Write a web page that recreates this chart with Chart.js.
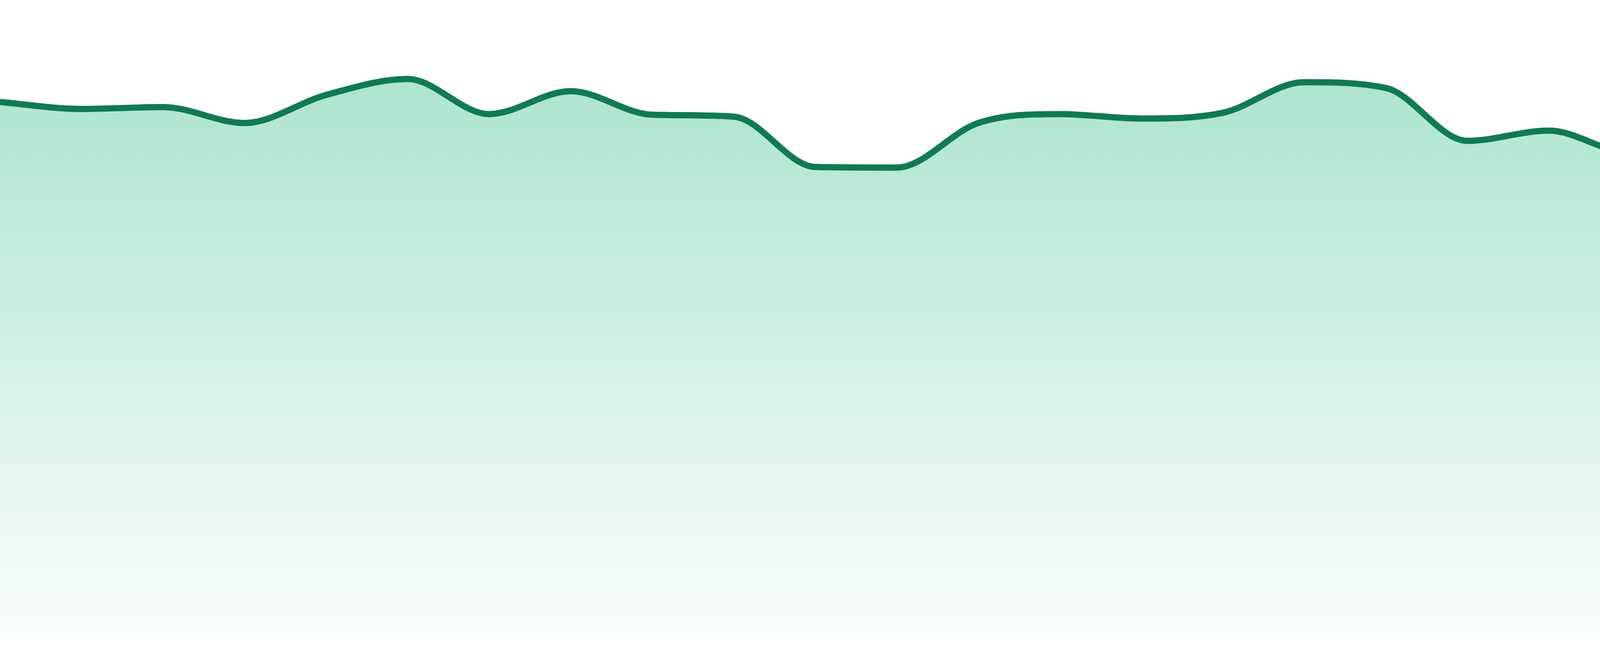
<!DOCTYPE html>
<html>
<head>
<meta charset="utf-8">
<script src="https://cdn.jsdelivr.net/npm/chart.js@4/dist/chart.umd.min.js"></script>
<style>
    html, body { margin: 0; padding: 0; background: #fff; }
    #wrap { width: 4800px; height: 1680px; position: relative; }
</style>
</head>
<body>
<div id="wrap"><canvas id="areaChart"></canvas></div>
<script>
const labels = ["1", "2", "3", "4", "5", "6", "7", "8", "9", "10", "11", "12",
    "13", "14", "15", "16", "17", "18", "19", "20", "21", "22", "23", "24"];
const values = [84.0, 82.9, 83.2, 80.7, 85.1, 87.6, 82.1, 85.7, 82.0, 81.7, 73.8, 73.7,
    80.7, 82.1, 81.4, 82.3, 87.1, 86.2, 77.9, 79.5, 76.0, 80.6, 74.6, 66.0];
const yMin = 0;
const yMax = 100;

const ctx = document.getElementById("areaChart").getContext("2d");

function fillGradient(context) {
    const area = context.chart.chartArea;
    if (!area) {
        return "rgba(20,180,120,0.3)";
    }
    const g = context.chart.ctx.createLinearGradient(0, area.top, 0, area.bottom);
    g.addColorStop(0, "rgba(20,180,120,0.40)");
    g.addColorStop(1, "rgba(20,180,120,0.02)");
    return g;
}

new Chart(ctx, {
    type: "line",
    data: {
        labels: labels,
        datasets: [
            {
                data: values,
                borderColor: "#117a52",
                borderWidth: 16,
                backgroundColor: fillGradient,
                fill: "start",
                cubicInterpolationMode: "monotone",
                pointRadius: 0,
                pointHoverRadius: 0,
            },
        ],
    },
    options: {
        responsive: true,
        maintainAspectRatio: false,
        animation: false,
        layout: { padding: { top: 0, left: 0, right: 0, bottom: 48 } },
        plugins: {
            legend: { display: false },
            tooltip: { enabled: false },
        },
        scales: {
            x: { display: false, offset: false },
            y: { display: false, min: yMin, max: yMax },
        },
    },
});
</script>
</body>
</html>
